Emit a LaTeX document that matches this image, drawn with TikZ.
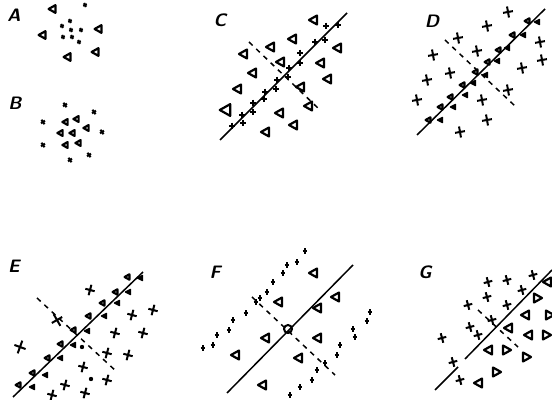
\documentclass[tikz,border=0pt]{standalone}
\usepackage{xcolor}
\usepackage{tikz}

\tikzset{
  tri/.pic={\draw[line width=1.1pt, line join=round] (-4,0) -- (4,-4.5) -- (4,4.5) -- cycle;},
  trif/.pic={\filldraw[line width=0.8pt, line join=round] (-3,0) -- (3,-3) -- (3,3) -- cycle;},
  crs/.pic={\draw[line width=1pt] (-4,0) -- (4,0) (0,-4.5) -- (0,4.5);},
  axis/.style={line width=0.75pt},
  perp/.style={line width=0.75pt, dash pattern=on 2.5pt off 2.5pt},
  lbl/.style={font=\small\sffamily\bfseries\itshape, inner sep=0pt}
}

\begin{document}
\begin{tikzpicture}[x=0.5pt, y=-0.5pt]
        \useasboundingbox (0,0) rectangle (552,400);
%	A
        \node[lbl] (lA) at (14,15) {A};
        \foreach \p in {(52,9),(42,35),(98,29),(95,52),(67,57)}
            \pic[scale=0.85] at \p {tri};
        \foreach \p in {(85,5),(70,21),(62,26),(71,30),(81,30),(63,37),(72,37),(79,42)}
            \pic[scale=0.5, rotate=20] at \p {crs};
%	B
        \node[lbl] (lB) at (15,103) {B};
        \foreach \p in {(65,105),(94,112),(43,122),(102,132),(43,145),(70,160),(89,155)}
            \pic[scale=0.6, rotate=35] at \p {crs};
        \foreach \p in {(65,122),(76,119),(86,128),(60,133),(72,133),(65,145),(78,143)}
            \pic[scale=0.65] at \p {tri};
%	C
        \node[lbl] (lC) at (220,20) {C};
        \coordinate (c1) at (220,140);
        \coordinate (c2) at (347,13);
        \coordinate (c3) at (249,42);
        \coordinate (c4) at (320,110);
        \draw[axis] (c1) -- (c2);
        \draw[perp] (c3) -- (c4);
        \foreach \p in {(326,26),(338,25),(315,42),(325,40),(300,53),(300,63),(289,68),(288,77),(277,80),(276,89),
                        (265,92),(264,99),(253,103),(253,112),(242,115),(243,123),(232,126)}
            \pic[scale=0.75] at \p {crs};
        \foreach \p in {(313,20),(292,39),(270,47),(243,54),(337,48),(252,73),(280,62),(320,63),(327,79),
                        (237,89),(300,87),(308,106),(279,113),(293,125),(265,132)}
            \pic at \p {tri};
        \pic[scale=1.3] at (225,110) {tri};
%	D
        \node[lbl] (lD) at (432,21) {D};
        \coordinate (d1) at (417,135);
        \coordinate (d2) at (545,9);
        \coordinate (d3) at (445,40);
        \coordinate (d4) at (515,106);
        \draw[axis] (d1) -- (d2);
        \draw[perp] (d3) -- (d4);
        \foreach \p in {(508,12),(487,26),(458,38),(433,55),(477,51),(540,42),(542,60),(522,68),(450,73),
                        (427,80),(417,100),(508,90),(482,100),(487,120),(460,132)}
            \pic[scale=1.25, rotate=10] at \p {crs};
        \foreach \p in {(527,21),(512,35),(498,50),(487,62),(475,72),(462,85),(450,97),(440,107),(428,120)}
            \pic[scale=0.6] at \p {tri};
        \foreach \p in {(537,22),(523,35),(507,48),(497,61),(485,75),(473,83),(465,95),(453,107),(440,120)}
            \pic[scale=0.8] at \p {trif};
%	E
        \node[lbl] (lE) at (14,266) {E};
        \coordinate (e1) at (13,397);
        \coordinate (e2) at (143,272);
        \coordinate (e3) at (37,298);
        \coordinate (e4) at (117,372);
        \draw[axis] (e1) -- (e2);
        \draw[perp] (e3) -- (e4);
        \foreach \p in {(90,290),(153,310),(132,315),(115,333),(143,333),(107,353),(128,355),(83,367),
                        (107,380),(65,385),(85,393),(52,395)}
            \pic[scale=1.2, rotate=-15] at \p {crs};
        \pic[scale=1.5, rotate=30] at (57,320) {crs};
        \pic[scale=1.5, rotate=-20] at (20,347) {crs};
        \foreach \p in {(127,277),(115,292),(102,303),(88,316),(73,330),(60,344),(47,358),(32,373),(18,385)}
            \pic[scale=0.6] at \p {tri};
        \foreach \p in {(140,278),(128,292),(117,303),(104,316),(87,331),(73,345),(60,358),(45,375),(32,387)}
            \pic[scale=0.8] at \p {trif};
        \fill (82,347) circle (2.2) (91,379) circle (2.2);
%	F
        \node[lbl] (lF) at (215,272) {F};
        \coordinate (f1) at (227,393);
        \coordinate (f2) at (353,265);
        \coordinate (f3) at (252,297);
        \coordinate (f4) at (335,375);
        \draw[axis] (f1) -- (f2);
        \draw[perp] (f3) -- (f4);
        \draw[line width=1pt] (288,329) circle (4);
        \foreach \p in {(305,251),(297,262),(287,265),(283,273),(273,282),(267,292),(260,298),(256,302),
                        (246,313),(233,320),(229,330),(217,335),(213,345),(203,348),
                        (370,312),(367,321),(353,329),(355,337),(340,345),(337,355),(325,363),(317,370),
                        (312,380),(300,387),(290,395)}
            \pic[scale=0.6] at \p {crs};
        \foreach \p in {(313,273),(335,297),(278,302),(317,308),(265,338),(317,338),(235,355),(298,358),(262,385)}
            \pic at \p {tri};
%	G
        \node[lbl] (lG) at (425,272) {G};
        \coordinate (g1) at (435,390);
        \coordinate (g2) at (458,367);
        \coordinate (g3) at (465,359);
        \coordinate (g4) at (552,270);
        \coordinate (g5) at (478,310);
        \coordinate (g6) at (518,347);
        \draw[axis] (g1) -- (g2);
        \draw[axis] (g3) -- (g4);
        \draw[perp] (g5) -- (g6);
        \foreach \p in {(488,282),(507,280),(533,275),(522,290),(468,305),(487,297),(507,305),(492,320),
                        (470,327),(478,335),(442,338),(453,362),(460,380)}
            \pic[scale=1.1, rotate=15] at \p {crs};
        \foreach \p in {(547,282),(525,315),(508,328),(528,335),(488,350),(478,383)}
            \pic at \p {tri};
        \foreach \p in {(538,298),(550,315),(547,335),(507,350),(527,357),(497,372)}
            \pic[rotate=180] at \p {tri};
\end{tikzpicture}
\end{document}
